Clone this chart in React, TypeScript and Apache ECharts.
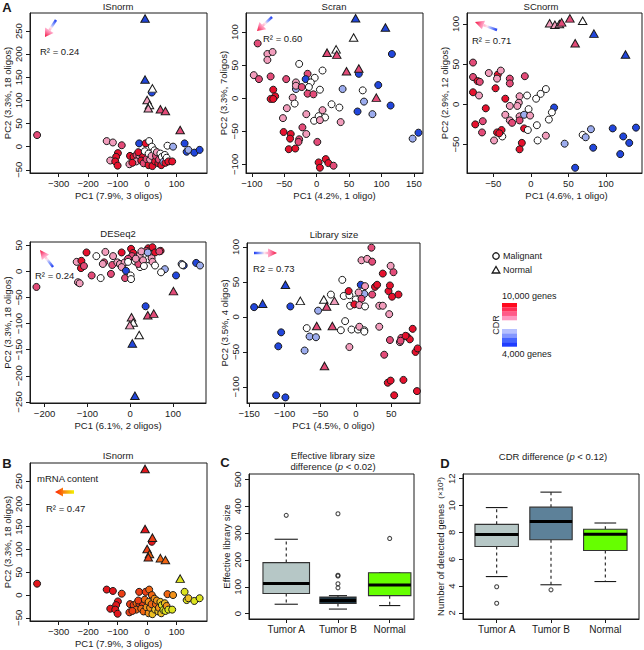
import React, { useEffect, useRef } from "react";
import * as echarts from "echarts";

const FONT = "'Liberation Sans', Arial, Helvetica, sans-serif";
const INK = "#1a1a1a";

// CDR level colours: 0 blue (4,000 genes) ... 5 red (10,000 genes)
const cdrPalette = ["#2146DC", "#9CACEE", "#FFFFFF", "#F29DBC", "#E34B78", "#E6112D"];
// mRNA content colours: 0 red (high) ... 5 yellow (low)
const mrnaPalette = ["#E3161B", "#EC3F15", "#F06512", "#F2921A", "#EEBF22", "#DCE21E"];

type P = [number, number, number];

// ---------- ISnorm (A, top-left) : [PC1, PC2, CDR level]
const isnormCircles: P[] = [
  [-373, 25, 4], [-137, 12, 3], [-116, 9, 3], [-86, 3, 4], [-27, 7, 0], [-5, 7, 5], [7, 12, 2],
  [16, 0, 2], [16, 117, 0], [69, 2, 2], [88, 0, 1], [127, 7, 0], [134, -11, 0], [140, -7, 1],
  [160, -13, 0], [178, -7, 0], [-99, -14, 5], [-105, -22, 5], [-125, -30, 3], [-108, -32, 5],
  [-100, -41, 5], [-60, -38, 3], [-58, -20, 5], [-46, -22, 5], [-36, -18, 4], [-26, -20, 3],
  [-15, -22, 5], [-37, -32, 3], [-30, -12, 5], [-20, -30, 5], [-12, -36, 4], [-8, -10, 2],
  [-2, -27, 4], [5, -15, 2], [5, -40, 5], [10, -28, 3], [15, -20, 3], [18, -42, 5], [25, -8, 2],
  [27, -32, 5], [30, -20, 4], [33, -12, 3], [38, -36, 5], [40, -28, 4], [45, -15, 2], [48, -40, 5],
  [50, -22, 2], [55, -33, 1], [60, -18, 2], [62, -35, 5], [66, -24, 2], [72, -32, 5], [85, -32, 5],
  [-50, -35, 5],
];
const isnormTriangles: P[] = [
  [-7, 277, 0], [-7, 145, 0], [18, 126, 2], [0, 101, 3], [8, 90, 2], [4, 83, 3], [45, 81, 4],
  [62, 77, 4], [112, 36, 4],
];
// mRNA content level of the same cells (panel B)
const mrnaCircleLevels = [
  0, 0, 0, 1, 1, 1, 2, 2, 0, 2, 3, 5, 5, 4, 5, 5, 0, 0, 0, 0, 0, 1, 1, 1, 2, 1, 1, 2, 1, 2, 2, 2,
  3, 3, 3, 3, 2, 4, 3, 4, 2, 3, 4, 3, 4, 4, 5, 5, 4, 5, 3, 5, 5, 1,
];
const mrnaTriangleLevels = [0, 0, 1, 1, 2, 1, 2, 2, 5];

// ---------- Scran
const scranCircles: P[] = [
  [-91, 83, 4], [-76, 67, 3], [-76, 58, 3], [-68, 70, 3], [-27, 52, 2], [116, 67, 0], [-97, 35, 3],
  [-89, 29, 4], [-71, 33, 4], [-47, 29, 4], [9, 42, 2], [-14, 37, 4], [-17, 29, 0], [-3, 31, 2],
  [-32, 24, 3], [-9, 24, 2], [-32, 14, 1], [-32, 19, 3], [-23, 17, 4], [-12, 17, 2], [5, 13, 2],
  [-67, 13, 5], [-64, 3, 5], [-71, -1, 5], [-67, -1, 5], [-37, 1, 3], [-14, 7, 4], [-5, 6, 4],
  [-34, -8, 2], [40, 14, 1], [71, 12, 2], [95, 20, 0], [73, -5, 1], [35, -14, 2], [23, -9, 2],
  [114, -11, 0], [63, -20, 0], [86, -24, 1], [-46, -15, 3], [-52, -30, 3], [-16, -24, 3],
  [9, -18, 3], [3, -27, 2], [13, -29, 2], [-4, -34, 2], [5, -33, 3], [37, -36, 3], [-51, -51, 5],
  [-40, -54, 5], [-41, -61, 5], [-22, -44, 4], [-16, -54, 3], [-27, -62, 4], [-28, -66, 4],
  [-43, -77, 5], [-33, -76, 5], [1, -66, 4], [3, -97, 5], [5, -105, 5], [14, -92, 5], [18, -98, 5],
  [26, -102, 4], [148, -61, 1], [157, -52, 0], [65, 37, 0],
];
const scranTriangles: P[] = [
  [60, 121, 0], [106, 107, 0], [57, 92, 2], [30, 74, 2], [16, 69, 4], [31, 66, 4], [46, 41, 4],
  [65, 45, 4], [92, 1, 4],
];

// ---------- SCnorm
const scnormCircles: P[] = [
  [-77, 52, 4], [-77, 34, 4], [-71, 29, 5], [-68, 28, 4], [-56, 39, 3], [-44, 37, 5], [-40, 42, 3],
  [-45, 32, 3], [-28, 32, 4], [-28, 26, 4], [-8, 35, 4], [-47, 20, 5], [-77, 15, 5], [-69, 11, 3],
  [-34, 7, 5], [-15, 10, 3], [-5, 11, 2], [20, 19, 2], [13, 13, 2], [7, 7, 2], [-60, -5, 5],
  [-64, -21, 4], [-74, -25, 5], [-28, -2, 3], [-16, 2, 3], [-18, -2, 3], [-3, -6, 2], [31, -4, 0],
  [28, -10, 2], [-34, -13, 3], [-28, -20, 3], [-25, -23, 4], [-15, -15, 3], [-9, -13, 1],
  [-1, -14, 3], [-15, -20, 4], [-9, -30, 5], [-4, -32, 2], [8, -26, 2], [24, -19, 2], [-65, -35, 4],
  [-45, -35, 5], [-39, -32, 5], [-38, -40, 2], [-49, -45, 3], [-12, -48, 5], [-15, -56, 5],
  [20, -39, 3], [9, -45, 2], [45, -49, 1], [69, -38, 2], [73, -41, 1], [80, -31, 1], [109, -30, 0],
  [123, -40, 0], [131, -48, 0], [140, -29, 0], [83, -54, 0], [119, -62, 0], [59, -79, 0],
  [-42, -36, 5],
];
const scnormTriangles: P[] = [
  [52, 107, 4], [25, 101, 3], [32, 99, 3], [38, 100, 3], [41, 102, 4], [69, 104, 2], [59, 76, 4],
  [84, 88, 0], [126, 62, 0],
];

// ---------- DESeq2
const deseqCircles: P[] = [
  [36, -67, 0], [-219, -30, 4], [-122, -21, 3], [-118, -23, 3], [-125, 18, 3], [-102, 36, 5],
  [-114, 20, 5], [-115, 6, 5], [-108, 10, 4], [-90, -8, 4], [-79, 29, 2], [-58, 37, 3], [-61, 17, 4],
  [-64, 14, 3], [-45, -5, 4], [-69, -13, 2], [-40, 29, 3], [-42, 12, 4], [-30, 17, 3], [-20, 36, 5],
  [-17, 14, 2], [-24, 14, 3], [-13, 17, 3], [-12, -13, 4], [-20, 8, 3], [-10, 1, 0], [1, -8, 2],
  [2, -15, 2], [2, 43, 5], [7, 35, 5], [4, 29, 4], [11, 19, 2], [16, 27, 3], [22, 30, 3], [23, 8, 2],
  [19, 14, 4], [42, 44, 5], [52, 46, 5], [38, 39, 4], [58, 36, 5], [71, 39, 5], [68, 38, 4],
  [26, 38, 3], [42, 23, 2], [30, 21, 3], [50, 25, 3], [52, 18, 3], [41, 36, 1], [58, 11, 2],
  [81, 4, 1], [72, -2, 2], [13, 24, 3], [-5, 24, 4], [120, 14, 1], [125, 11, 0], [107, -8, 0],
  [154, 16, 0], [163, 11, 1], [122, 12, 2], [-5, 18, 2], [32, 10, 2],
];
const deseqTriangles: P[] = [
  [101, -38, 4], [41, -84, 4], [55, -81, 4], [3, -88, 3], [7, -98, 2], [-1, -103, 3], [21, -122, 2],
  [5, -138, 0], [11, -238, 0],
];

// ---------- Library size
const libCircles: P[] = [
  [-143, 14, 0], [-92, 15, 0], [-105, -22, 0], [-109, -42, 0], [-112, -112, 0], [-99, -115, 0],
  [-53, 9, 1], [-65, -28, 1], [-56, -29, 1], [-72, -48, 1], [-69, -16, 2], [-19, 53, 2], [-35, 32, 2],
  [-17, 30, 2], [-9, 31, 2], [-10, 37, 5], [-15, -6, 2], [-21, -19, 2], [-6, -18, 2], [3, -18, 2],
  [-8, 16, 2], [0, 25, 2], [12, 33, 1], [7, 46, 0], [4, 35, 3], [8, 26, 4], [-2, 18, 5], [5, 17, 3],
  [13, 15, 2], [13, 44, 3], [5, -14, 3], [12, -19, 2], [12, -21, 2], [-9, -43, 3], [8, 81, 3],
  [16, 83, 3], [22, 99, 4], [23, 79, 4], [23, 32, 4], [27, 43, 5], [30, 46, 5], [38, 62, 5],
  [53, 64, 4], [49, 73, 3], [33, 16, 3], [38, 16, 3], [46, 37, 5], [48, 45, 5], [51, 29, 5],
  [60, 32, 5], [47, 4, 3], [33, -14, 3], [48, -33, 4], [40, -54, 4], [62, -36, 3], [64, -30, 4],
  [63, -34, 4], [72, -28, 5], [76, -32, 5], [80, -17, 5], [70, -27, 5], [84, -50, 5], [87, -45, 5],
  [45, -94, 5], [49, -91, 5], [54, -112, 5], [67, -90, 5], [86, -106, 5],
];
const libTriangles: P[] = [
  [-131, 19, 0], [-99, 46, 0], [-78, 23, 2], [-45, 25, 2], [-41, 15, 4], [-30, 23, 3], [-55, -13, 4],
  [-33, -13, 4], [-44, -70, 4],
];

// ---------- Box plots
const boxGroups = ["Tumor A", "Tumor B", "Normal"];
// [lower whisker, Q1, median, Q3, upper whisker]
const effLibStats = [
  [35, 75, 112, 190, 277],
  [17, 38, 49, 62, 67],
  [30, 67, 107, 152, 152],
];
const effLibOutliers = [[1, 366], [2, 372], [2, 143], [2, 140], [2, 111], [2, 96], [3, 280]];
const effLibWidths = [0.9, 0.7, 0.82];
const cdrStats = [
  [4.71, 6.95, 7.85, 8.6, 9.85],
  [4.1, 7.45, 8.82, 9.88, 11.0],
  [4.34, 6.65, 7.87, 8.24, 8.7],
];
const cdrOutliers = [[1, 3.95], [1, 2.72], [2, 3.72]];
const cdrWidths = [0.8, 0.78, 0.8];
const effLibFills = ["#B6C7C6", "#1E3441", "#66FF00"];
const cdrFills = ["#B6C7C6", "#5D8199", "#66FF00"];

const isnormXTicks = [-300, -200, -100, 0, 100];
const isnormYTicks = [-50, 0, 50, 100, 150, 200, 250];
const scranXTicks = [-100, -50, 0, 50, 100, 150];
const scranYTicks = [-100, -50, 0, 50, 100];
const scnormXTicks = [-50, 0, 50, 100];
const scnormYTicks = [-50, 0, 50, 100];
const deseqXTicks = [-200, -100, 0, 100];
const deseqYTicks = [-250, -200, -150, -100, -50, 0, 50];
const libXTicks = [-150, -100, -50, 0, 50];
const libYTicks = [-100, -50, 0, 50, 100];
const effLibYTicks = [0, 100, 200, 300, 400, 500];
const cdrYTicks = [2, 4, 6, 8, 10, 12];
const groupTicks = [1, 2, 3];

const fmt = (v: number) => (v < 0 ? "\u2212" + Math.abs(v) : String(v));

const scatterPanels = [
  { grid: { left: 30, top: 13, width: 177, height: 160 }, x: [-397, 203], y: [-57, 289], xt: isnormXTicks, yt: isnormYTicks, xn: "PC1 (7.9%, 3 oligos)", yn: "PC2 (3.3%, 18 oligos)", c: isnormCircles, t: isnormTriangles, cc: isnormCircles.map((p) => cdrPalette[p[2]]), tc: isnormTriangles.map((p) => cdrPalette[p[2]]), shift: 0 },
  { grid: { left: 246, top: 13, width: 177, height: 160 }, x: [-109, 164], y: [-113, 129], xt: scranXTicks, yt: scranYTicks, xn: "PC1 (4.2%, 1 oligo)", yn: "PC2 (3.3%, 7oligos)", c: scranCircles, t: scranTriangles, cc: scranCircles.map((p) => cdrPalette[p[2]]), tc: scranTriangles.map((p) => cdrPalette[p[2]]), shift: 0 },
  { grid: { left: 467, top: 13, width: 175, height: 160 }, x: [-85, 148], y: [-85.5, 113.7], xt: scnormXTicks, yt: scnormYTicks, xn: "PC1 (4.6%, 1 oligo)", yn: "PC2 (2.9%, 12 oligos)", c: scnormCircles, t: scnormTriangles, cc: scnormCircles.map((p) => cdrPalette[p[2]]), tc: scnormTriangles.map((p) => cdrPalette[p[2]]), shift: 24 },
  { grid: { left: 30, top: 242, width: 176, height: 161 }, x: [-234, 177], y: [-252, 56], xt: deseqXTicks, yt: deseqYTicks, xn: "PC1 (6.1%, 2 oligos)", yn: "PC2 (3.3%, 18 oligos)", c: deseqCircles, t: deseqTriangles, cc: deseqCircles.map((p) => cdrPalette[p[2]]), tc: deseqTriangles.map((p) => cdrPalette[p[2]]), shift: 0 },
  { grid: { left: 247, top: 243, width: 173, height: 160 }, x: [-153, 90.3], y: [-123, 105.7], xt: libXTicks, yt: libYTicks, xn: "PC1 (4.5%, 0 oligo)", yn: "PC2 (3.5%, 4 oligos)", c: libCircles, t: libTriangles, cc: libCircles.map((p) => cdrPalette[p[2]]), tc: libTriangles.map((p) => cdrPalette[p[2]]), shift: 0 },
  { grid: { left: 30, top: 463, width: 177, height: 158 }, x: [-397, 203], y: [-57, 290], xt: isnormXTicks, yt: isnormYTicks, xn: "PC1 (7.9%, 3 oligos)", yn: "PC2 (3.3%, 18 oligos)", c: isnormCircles, t: isnormTriangles, cc: mrnaCircleLevels.map((l) => mrnaPalette[l]), tc: mrnaTriangleLevels.map((l) => mrnaPalette[l]), shift: 0 },
];

const txtStyle = { fontFamily: FONT, fill: INK };

function label(x: number, y: number, text: string, extra: any = {}) {
  return {
    type: "text", x, y, silent: true,
    style: { text, fontSize: 9.5, align: "center", verticalAlign: "middle", ...txtStyle, ...extra },
  };
}

function arrow(tx: number, ty: number, hx: number, hy: number, stops: any[], headLen: number, headW: number, lw: number) {
  const dx = hx - tx, dy = hy - ty;
  const L = Math.hypot(dx, dy);
  const ux = dx / L, uy = dy / L;
  const bx = hx - ux * headLen, by = hy - uy * headLen;
  const px = -uy, py = ux;
  const grad = () => ({ type: "linear", x: tx, y: ty, x2: hx, y2: hy, global: true, colorStops: stops });
  return [
    { type: "line", silent: true, shape: { x1: tx, y1: ty, x2: bx, y2: by }, style: { stroke: grad(), lineWidth: lw } },
    { type: "polygon", silent: true, shape: { points: [[hx, hy], [bx + (px * headW) / 2, by + (py * headW) / 2], [bx - (px * headW) / 2, by - (py * headW) / 2]] }, style: { fill: grad() } },
  ];
}

const cdrStops = [
  { offset: 0, color: "#1E3CF0" },
  { offset: 0.3, color: "#9DB0FF" },
  { offset: 0.45, color: "#FFE6EE" },
  { offset: 0.7, color: "#FF8CB4" },
  { offset: 1, color: "#F0103A" },
];
const mrnaStops = [
  { offset: 0, color: "#F2F000" },
  { offset: 0.5, color: "#F89010" },
  { offset: 1, color: "#FF1A00" },
];

function boxRenderer(fills: string[]) {
  return (params: any, api: any) => {
    const x = api.value(0);
    const lo = api.coord([x, api.value(1)]);
    const q1 = api.coord([x, api.value(2)]);
    const md = api.coord([x, api.value(3)]);
    const q3 = api.coord([x, api.value(4)]);
    const hi = api.coord([x, api.value(5)]);
    const hw = api.size([api.value(6), 0])[0] / 2;
    const cx = md[0];
    const dash = { stroke: INK, lineWidth: 1.1, lineDash: [3, 3] };
    const solid = { stroke: INK, lineWidth: 1.1 };
    return {
      type: "group",
      children: [
        { type: "line", shape: { x1: cx, y1: q3[1], x2: cx, y2: hi[1] }, style: dash },
        { type: "line", shape: { x1: cx, y1: q1[1], x2: cx, y2: lo[1] }, style: dash },
        { type: "line", shape: { x1: cx - hw / 2, y1: hi[1], x2: cx + hw / 2, y2: hi[1] }, style: solid },
        { type: "line", shape: { x1: cx - hw / 2, y1: lo[1], x2: cx + hw / 2, y2: lo[1] }, style: solid },
        { type: "rect", shape: { x: cx - hw, y: q3[1], width: 2 * hw, height: q1[1] - q3[1] }, style: { fill: fills[params.dataIndex], stroke: "#333", lineWidth: 1.1 } },
        { type: "line", shape: { x1: cx - hw, y1: md[1], x2: cx + hw, y2: md[1] }, style: { stroke: "#000", lineWidth: 3 } },
      ],
    };
  };
}

function buildOption() {
  const grids: any[] = [];
  const xAxes: any[] = [];
  const yAxes: any[] = [];
  const series: any[] = [];
  const nameStyle = { fontSize: 9.5, color: INK, fontFamily: FONT };
  const axisLine = { show: true, onZero: false, lineStyle: { color: INK, width: 1 } };
  const mkX = (gi: number, min: number, max: number, ticks: number[], name: string, fs = 9.5, formatter: any = fmt, shift = 0) => ({
    type: "value", gridIndex: gi, min, max,
    splitLine: { show: false }, axisLine,
    axisTick: { show: true, length: 4, customValues: ticks, lineStyle: { color: INK, width: 1 } },
    axisLabel: { customValues: ticks, fontSize: fs, color: INK, fontFamily: FONT, margin: 5, formatter, showMinLabel: true, showMaxLabel: true, hideOverlap: false },
    name, nameLocation: "middle", nameGap: 17, nameTextStyle: { ...nameStyle, padding: [0, 0, 0, shift] },
  });
  const mkY = (gi: number, min: number, max: number, ticks: number[], name: any, gap = 18, rich: any = undefined) => ({
    type: "value", gridIndex: gi, min, max,
    splitLine: { show: false }, axisLine,
    axisTick: { show: true, length: 4, customValues: ticks, lineStyle: { color: INK, width: 1 } },
    axisLabel: { customValues: ticks, fontSize: 9.5, color: INK, fontFamily: FONT, margin: 7, rotate: 90, formatter: fmt, showMinLabel: true, showMaxLabel: true, hideOverlap: false },
    name, nameLocation: "middle", nameGap: gap, nameTextStyle: rich ? { ...nameStyle, rich } : nameStyle,
  });

  scatterPanels.forEach((p, gi) => {
    grids.push({ ...p.grid, show: true, borderColor: INK, borderWidth: 1, containLabel: false, outerBoundsMode: "none" });
    xAxes.push(mkX(gi, p.x[0], p.x[1], p.xt, p.xn, 9.5, fmt, p.shift));
    yAxes.push(mkY(gi, p.y[0], p.y[1], p.yt, p.yn));
    series.push({
      type: "scatter", xAxisIndex: gi, yAxisIndex: gi, symbol: "circle", symbolSize: 7, silent: true,
      itemStyle: { borderColor: INK, borderWidth: 1, opacity: 1 },
      data: p.c.map((d, i) => ({ value: [d[0], d[1]], itemStyle: { color: p.cc[i] } })),
    });
    series.push({
      type: "scatter", xAxisIndex: gi, yAxisIndex: gi, symbol: "triangle", symbolSize: [8.5, 7.5], silent: true,
      itemStyle: { borderColor: INK, borderWidth: 1, opacity: 1 },
      data: p.t.map((d, i) => ({ value: [d[0], d[1]], itemStyle: { color: p.tc[i] } })),
    });
  });

  const groupFmt = (v: number) => boxGroups[v - 1];
  // C
  grids.push({ left: 249, top: 474, width: 165, height: 145, show: true, borderColor: INK, borderWidth: 1, containLabel: false, outerBoundsMode: "none" });
  xAxes.push(mkX(6, 0.28, 3.47, groupTicks, "", 10, groupFmt));
  yAxes.push(mkY(6, -20, 520, effLibYTicks, "Effective library size", 17));
  // D
  grids.push({ left: 463, top: 474, width: 176, height: 145, show: true, borderColor: INK, borderWidth: 1, containLabel: false, outerBoundsMode: "none" });
  xAxes.push(mkX(7, 0.38, 3.62, groupTicks, "", 10, groupFmt));
  yAxes.push(mkY(7, 1.55, 12.35, cdrYTicks, "Number of detected genes  {s|(×10³)}", 14, { s: { fontSize: 8, fontFamily: FONT, color: INK } }));

  series.push({
    type: "custom", xAxisIndex: 6, yAxisIndex: 6, silent: true, clip: false,
    dimensions: ["x", "lo", "q1", "med", "q3", "hi", "w"], encode: { x: 0, y: [1, 2, 3, 4, 5] },
    renderItem: boxRenderer(effLibFills),
    data: effLibStats.map((s, i) => [i + 1, ...s, effLibWidths[i]]),
  });
  series.push({
    type: "scatter", xAxisIndex: 6, yAxisIndex: 6, symbol: "circle", symbolSize: 4, silent: true,
    itemStyle: { color: "rgba(0,0,0,0)", borderColor: INK, borderWidth: 1.1 }, data: effLibOutliers,
  });
  series.push({
    type: "custom", xAxisIndex: 7, yAxisIndex: 7, silent: true, clip: false,
    dimensions: ["x", "lo", "q1", "med", "q3", "hi", "w"], encode: { x: 0, y: [1, 2, 3, 4, 5] },
    renderItem: boxRenderer(cdrFills),
    data: cdrStats.map((s, i) => [i + 1, ...s, cdrWidths[i]]),
  });
  series.push({
    type: "scatter", xAxisIndex: 7, yAxisIndex: 7, symbol: "circle", symbolSize: 4, silent: true,
    itemStyle: { color: "rgba(0,0,0,0)", borderColor: INK, borderWidth: 1.1 }, data: cdrOutliers,
  });

  const bold = { fontSize: 13, fontWeight: "bold" };
  const graphic: any[] = [
    label(7, 7, "A", bold),
    label(7, 463, "B", bold),
    label(225, 462, "C", bold),
    label(445, 463, "D", bold),
    label(118, 6, "ISnorm"),
    label(334, 6, "Scran"),
    label(541, 6, "SCnorm"),
    label(118, 233, "DESeq2"),
    label(334, 234, "Library size"),
    label(118, 455, "ISnorm"),
    label(333, 455, "Effective library size"),
    label(333, 466, "difference ({i|p} < 0.02)", { rich: { i: { fontStyle: "italic", fontSize: 9.5, fontFamily: FONT } } }),
    label(553, 456, "CDR difference ({i|p} < 0.12)", { rich: { i: { fontStyle: "italic", fontSize: 9.5, fontFamily: FONT } } }),
    // R² annotations
    label(40, 51, "R² = 0.24", { align: "left" }),
    label(263, 38, "R² = 0.60", { align: "left" }),
    label(472, 40, "R² = 0.71", { align: "left" }),
    label(35, 275, "R² = 0.24", { align: "left" }),
    label(253, 268, "R2 = 0.73", { align: "left" }),
    label(37, 478, "mRNA content", { align: "left" }),
    label(46, 508, "R² = 0.47", { align: "left" }),
    ...arrow(56, 20, 45, 37, cdrStops, 8, 10, 2.5),
    ...arrow(272, 17, 257, 31, cdrStops, 8, 10, 2.5),
    ...arrow(497, 30, 475, 22, cdrStops, 9, 9, 2.5),
    ...arrow(53, 267, 40, 250, cdrStops, 9, 9, 2.5),
    ...arrow(254, 253, 277, 253, cdrStops, 9, 9, 2.5),
    ...arrow(74, 492, 55, 492, mrnaStops, 8, 9, 3.5),
    // legend
    { type: "circle", silent: true, shape: { cx: 496, cy: 256, r: 3.2 }, style: { fill: "none", stroke: INK, lineWidth: 1.3 } },
    { type: "polygon", silent: true, shape: { points: [[496, 266.5], [492.2, 273], [499.8, 273]] }, style: { fill: "none", stroke: INK, lineWidth: 1.3 } },
    label(503, 256, "Malignant", { align: "left", fontSize: 9 }),
    label(503, 270, "Normal", { align: "left", fontSize: 9 }),
    label(502, 296, "10,000 genes", { align: "left", fontSize: 9 }),
    label(502, 354, "4,000 genes", { align: "left", fontSize: 9 }),
    { type: "text", silent: true, x: 496, y: 325, rotation: Math.PI / 2, style: { text: "CDR", fontSize: 9, fontFamily: FONT, fill: INK, align: "center", verticalAlign: "middle" } },
  ];
  const redSteps = ["#FF0A1E", "#FF2E55", "#FF5A88", "#FF96BF"];
  const blueSteps = ["#B6C0FF", "#8497FF", "#4564FF", "#1F3DFF"];
  redSteps.forEach((c, i) => graphic.push({ type: "rect", silent: true, shape: { x: 502, y: 303 + i * 4.3, width: 15, height: 4.4 }, style: { fill: c } }));
  blueSteps.forEach((c, i) => graphic.push({ type: "rect", silent: true, shape: { x: 502, y: 329 + i * 4.4, width: 15, height: 4.5 }, style: { fill: c } }));

  return {
    animation: false,
    backgroundColor: "#ffffff",
    textStyle: { fontFamily: FONT },
    grid: grids,
    xAxis: xAxes,
    yAxis: yAxes,
    series,
    graphic,
  };
}

export default function App() {
  const ref = useRef<HTMLDivElement>(null);
  useEffect(() => {
    if (!ref.current) return;
    const chart = echarts.init(ref.current, undefined, { renderer: "svg" });
    chart.setOption(buildOption() as any);
    return () => chart.dispose();
  }, []);
  return <div ref={ref} style={{ position: "absolute", left: 0, top: 0, width: 644, height: 650 }} />;
}
